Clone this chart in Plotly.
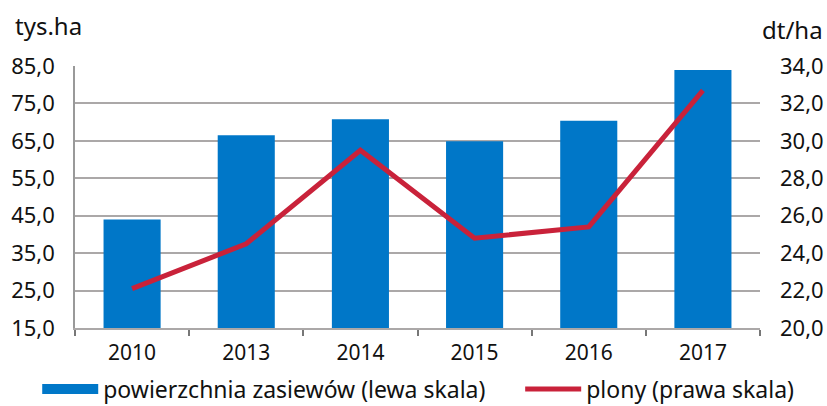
import plotly.graph_objects as go

years = ["2010", "2013", "2014", "2015", "2016", "2017"]
area = [44.0, 66.5, 70.8, 64.9, 70.4, 83.9]      # tys.ha (left axis)
yields = [22.1, 24.5, 29.5, 24.8, 25.4, 32.7]    # dt/ha (right axis)

bar_name = "powierzchnia zasiewów (lewa skala)"
line_name = "plony (prawa skala)"
left_title = "tys.ha"
right_title = "dt/ha"

BLUE = "#0077c8"
RED = "#c9223a"
GRID = "#aba8a8"
FONT = "Noto Sans"

fig = go.Figure()
fig.add_trace(go.Bar(x=years, y=area, name=bar_name, marker=dict(color=BLUE, line=dict(width=0)),
                     width=0.5, showlegend=False, yaxis="y"))
# legend entry for bars (wide rectangle like reference)
fig.add_trace(go.Scatter(x=[None], y=[None], mode="lines", name=bar_name,
                         line=dict(color=BLUE, width=10), yaxis="y", legend="legend"))
fig.add_trace(go.Scatter(x=years, y=yields, mode="lines", name=line_name,
                         line=dict(color=RED, width=5), yaxis="y2", legend="legend2"))

legend_common = dict(orientation="h", xanchor="left", yref="container", y=0.042, yanchor="middle",
                     font=dict(size=23), itemwidth=56, bgcolor="rgba(0,0,0,0)")

fig.update_layout(
    width=827, height=406,
    margin=dict(l=75, r=67, t=66, b=78, autoexpand=False),
    plot_bgcolor="white", paper_bgcolor="white",
    separators=", ",
    font=dict(family=FONT, size=21, color="#111111"),
    bargap=0.5,
    xaxis=dict(type="category", showgrid=False, showline=True, linecolor=GRID, linewidth=1.5,
               ticks="outside", tickson="boundaries", ticklen=6, tickcolor="#777777", tickwidth=1.5,
               tickfont=dict(size=21), ticklabelstandoff=5, automargin=False),
    yaxis=dict(range=[15, 85], dtick=10, tick0=15, tickformat=".1f", showgrid=True, gridcolor=GRID,
               gridwidth=1.5, showline=True, linecolor="#999999", linewidth=1.5, ticks="",
               tickfont=dict(size=22), zeroline=False, ticklabelstandoff=14, automargin=False),
    yaxis2=dict(range=[20, 34], dtick=2, tick0=20, tickformat=".1f", overlaying="y", side="right",
                showgrid=False, showline=False, ticks="", tickfont=dict(size=22), zeroline=False,
                ticklabelstandoff=19, automargin=False),
    legend=dict(xref="container", x=0.045, **legend_common),
    legend2=dict(xref="container", x=0.629, **legend_common),
    annotations=[
        dict(text=left_title, xref="paper", yref="paper", x=-0.09, y=1.155, xanchor="left",
             yanchor="middle", showarrow=False, font=dict(size=24)),
        dict(text=right_title, xref="paper", yref="paper", x=1.0, y=1.14, xanchor="left",
             yanchor="middle", showarrow=False, font=dict(size=24)),
    ],
)

fig.write_html("out.html", config={"displayModeBar": False},
               post_script="document.body.style.margin='0';")
